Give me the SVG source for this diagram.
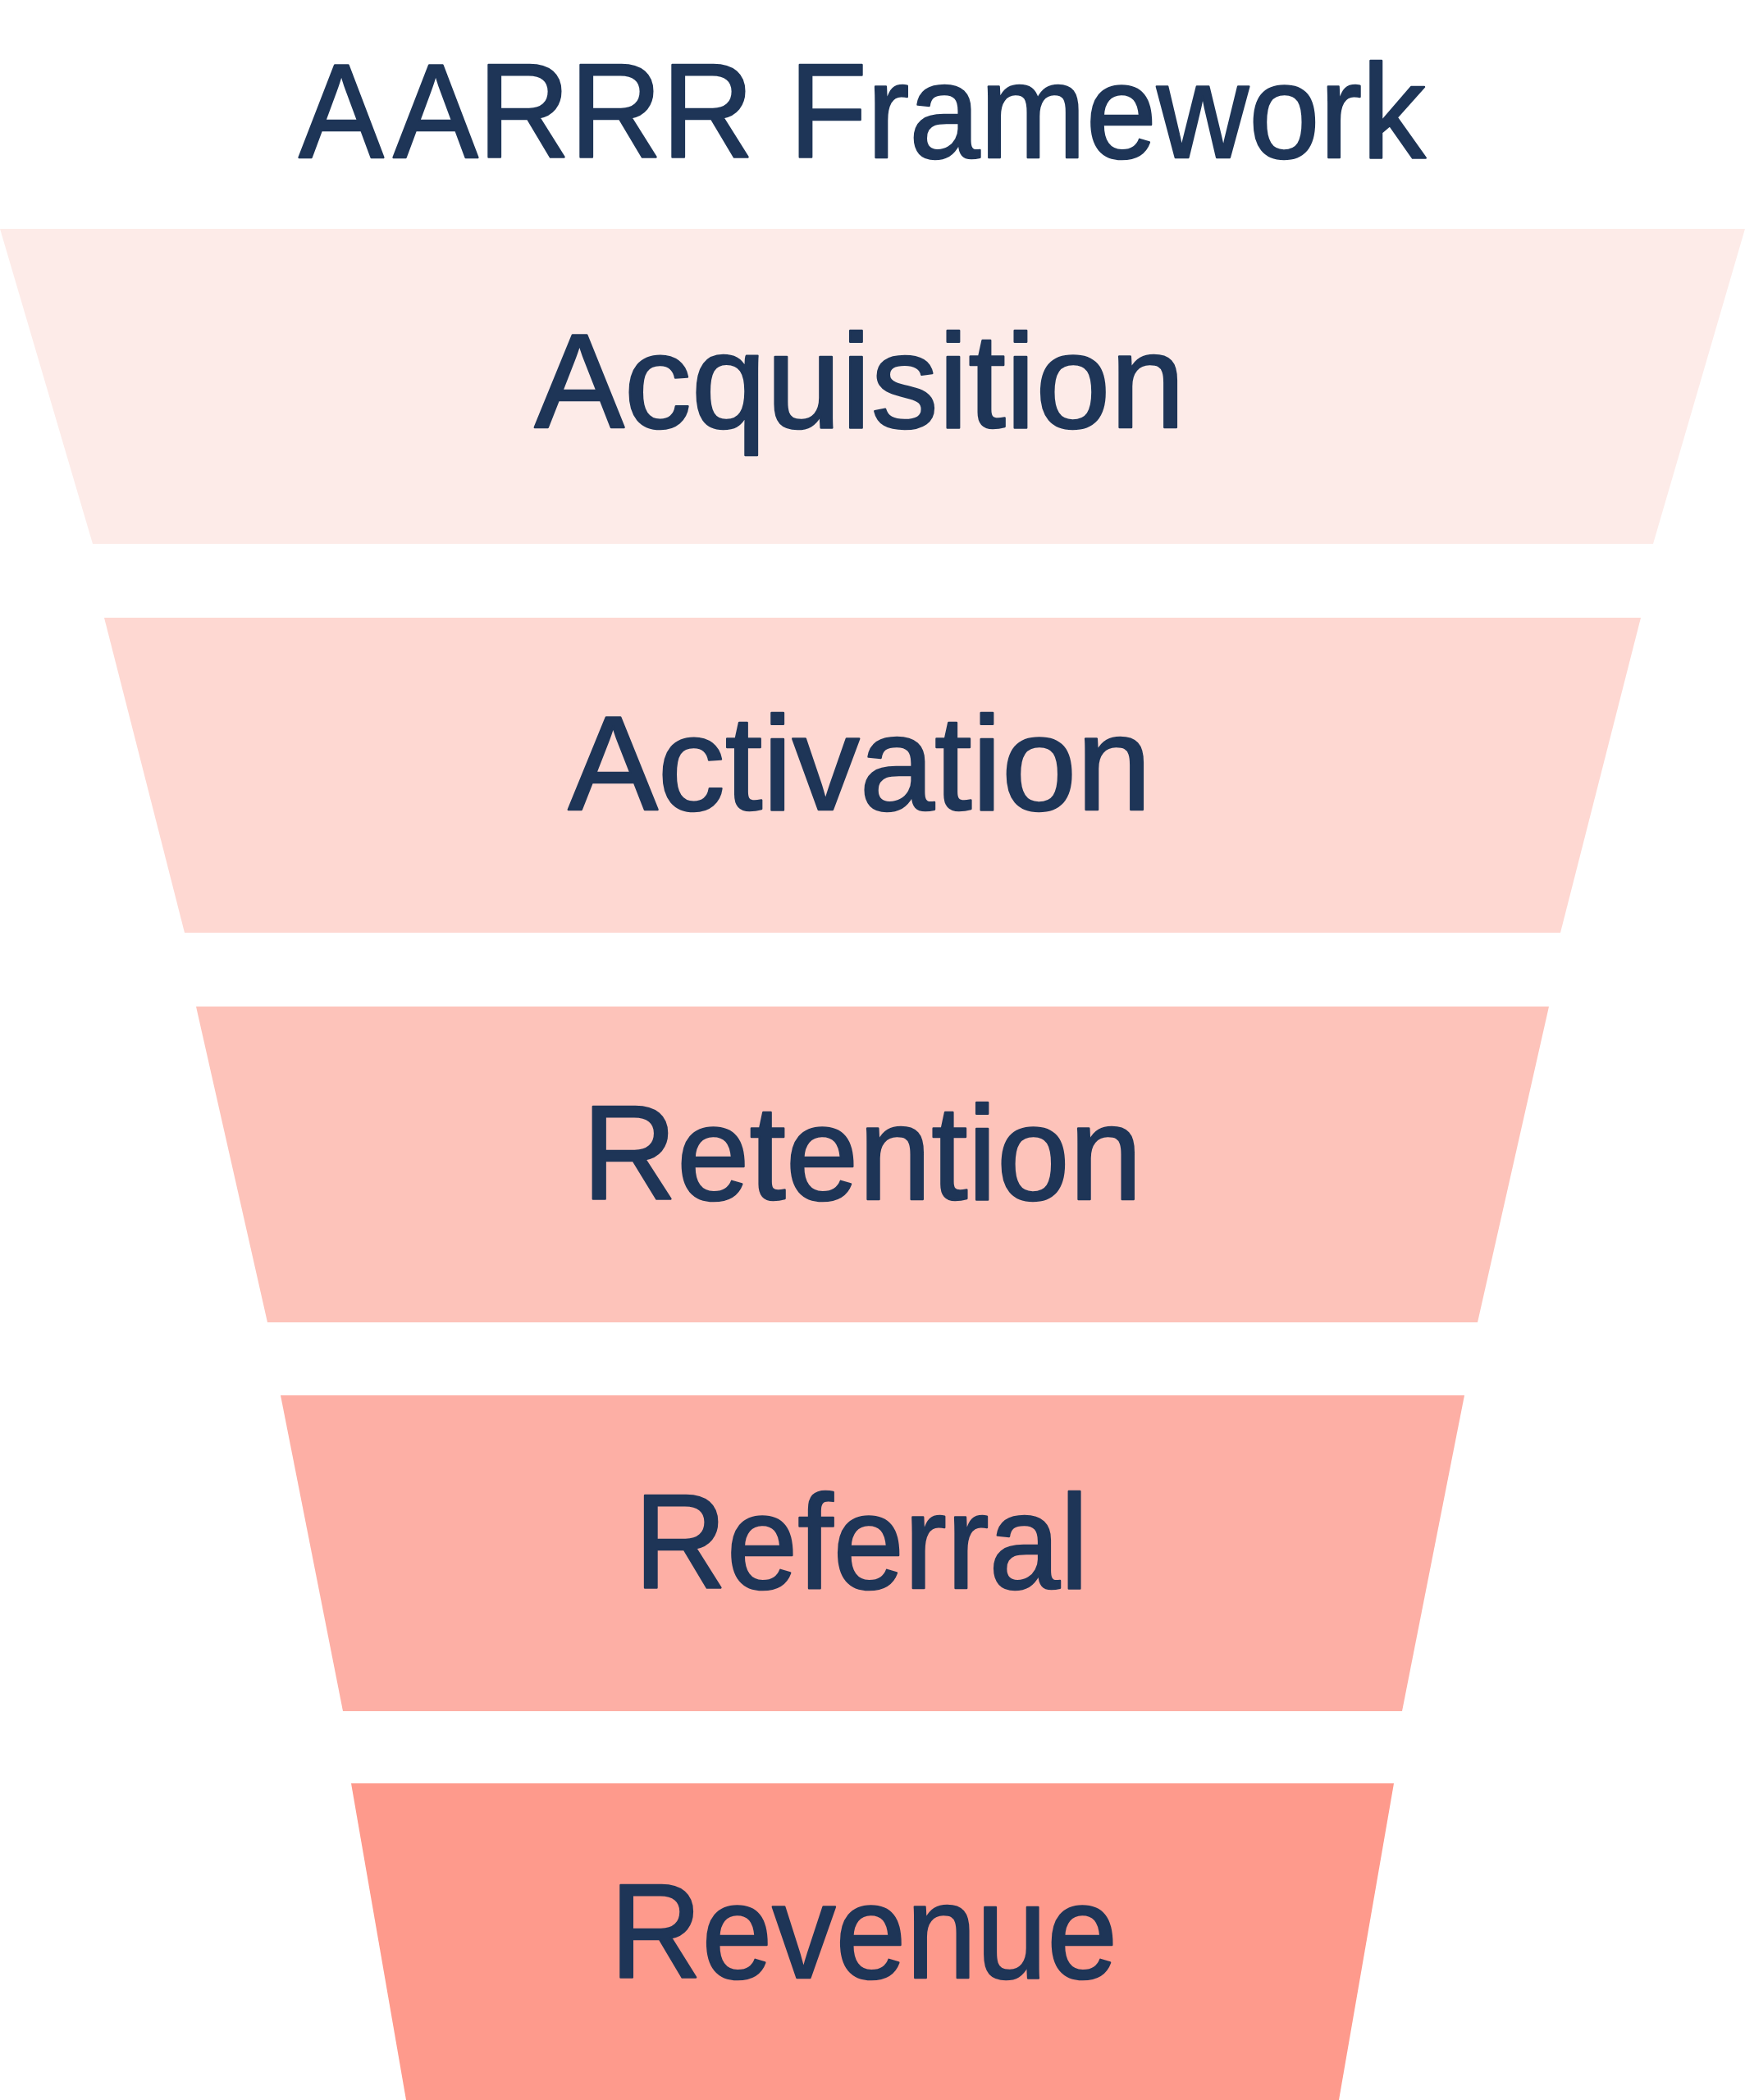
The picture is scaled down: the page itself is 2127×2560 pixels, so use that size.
<svg xmlns="http://www.w3.org/2000/svg" width="2127" height="2560" viewBox="0 0 2127 2560">
<style>
  .lbl { font-family: "Liberation Sans", Arial, sans-serif; font-size: 164px; fill: #1E3557; stroke: #1E3557; stroke-width: 2.5px; stroke-linejoin: round; text-anchor: middle; }
</style>
<rect x="0" y="0" width="2127" height="2560" fill="#FFFFFF"/>
<text id="title" class="lbl" transform="translate(1051,192) scale(0.946,1)" x="0" y="0">A<tspan dx="12">ARRR Framework</tspan></text>
<g id="acquisition">
  <polygon points="0,279 2127,279 2015,663 113,663" fill="#FDEBE8"/>
  <text class="lbl" x="1048" y="521">Acquisition</text>
</g>
<g id="activation">
  <polygon points="127,753 2000,753 1902,1137 225,1137" fill="#FED8D2"/>
  <text class="lbl" x="1048" y="987">Activation</text>
</g>
<g id="retention">
  <polygon points="239,1227 1888,1227 1801,1612 326,1612" fill="#FDC3BA"/>
  <text class="lbl" transform="translate(1051,1462) scale(0.972,1)" x="0" y="0">Retention</text>
</g>
<g id="referral">
  <polygon points="342,1701 1785,1701 1709,2086 418,2086" fill="#FDAFA5"/>
  <text class="lbl" transform="translate(1050,1936) scale(0.949,1)" x="0" y="0">Referral</text>
</g>
<g id="revenue">
  <polygon points="428,2174 1699,2174 1632,2560 495,2560" fill="#FE9A8C"/>
  <text class="lbl" transform="translate(1053,2411) scale(0.942,1)" x="0" y="0">Revenue</text>
</g>
<g id="connectors"></g>
</svg>
